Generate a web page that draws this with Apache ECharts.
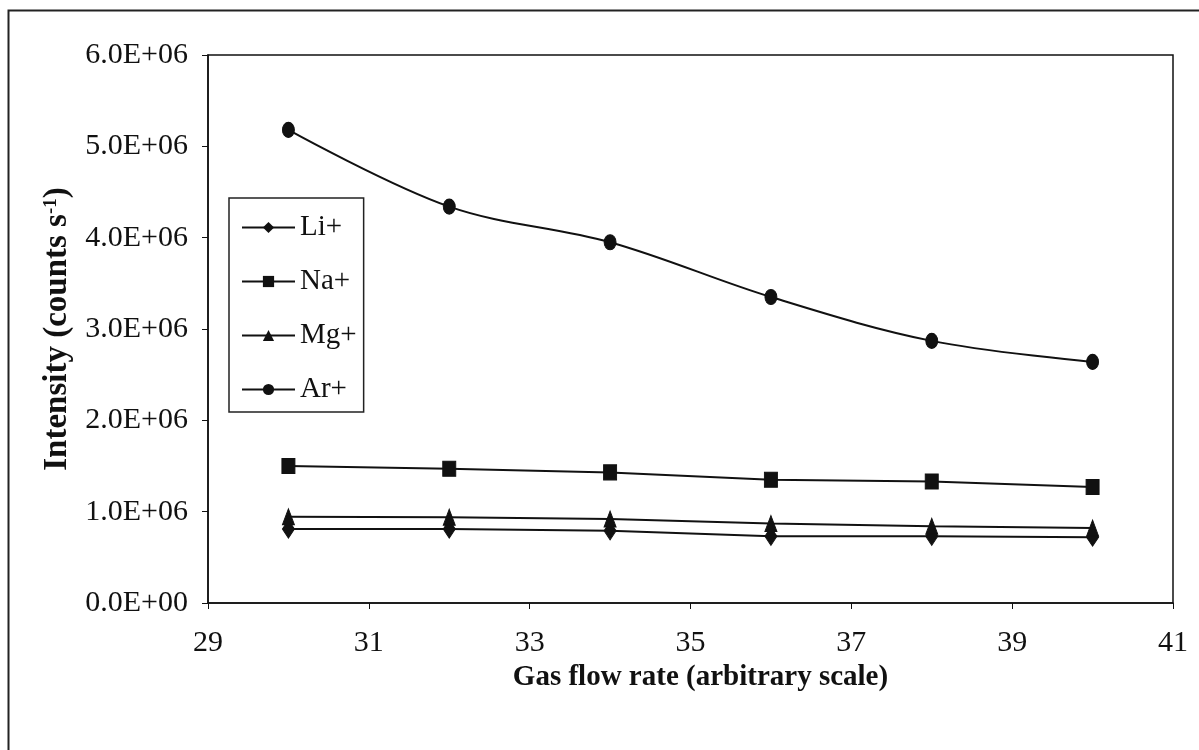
<!DOCTYPE html>
<html>
<head>
<meta charset="utf-8">
<script src="https://cdn.jsdelivr.net/npm/echarts@6/dist/echarts.min.js"></script>
<style>
  html, body { margin: 0; padding: 0; background: #fff; }
  #chart { width: 1199px; height: 750px; }
</style>
</head>
<body>
<div id="chart"></div>
<script>
// Gas flow rate (arbitrary scale)
const flowRates = [30, 32, 34, 36, 38, 40];

// Ion intensities, counts per second
const liValues = [0.81e6, 0.81e6, 0.79e6, 0.73e6, 0.73e6, 0.72e6];
const naValues = [1.50e6, 1.47e6, 1.43e6, 1.35e6, 1.33e6, 1.27e6];
const mgValues = [0.945e6, 0.94e6, 0.92e6, 0.87e6, 0.84e6, 0.82e6];
const arValues = [5.18e6, 4.34e6, 3.95e6, 3.35e6, 2.87e6, 2.64e6];

// Tick positions shown on the x axis
const xTicks = [29, 31, 33, 35, 37, 39, 41];

const serif = '"Liberation Serif", "Times New Roman", serif';

function pairs(values) {
  return flowRates.map((x, i) => [x, values[i]]);
}

function lineSeries(name, values, symbol, size, smooth) {
  return {
    name: name,
    type: 'line',
    data: pairs(values),
    symbol: symbol,
    symbolSize: size,
    smooth: smooth,
    lineStyle: { color: '#111', width: 2 },
    itemStyle: { color: '#111', borderColor: '#111' },
    z: 3
  };
}

const chart = echarts.init(document.getElementById('chart'));

chart.setOption({
  backgroundColor: '#fff',
  animation: false,
  graphic: [{
    type: 'rect',
    shape: { x: 8.5, y: 10.5, width: 1220, height: 760 },
    style: { fill: 'none', stroke: '#222', lineWidth: 2 },
    silent: true
  }],
  grid: {
    left: 208, right: 26, top: 55, bottom: 147,
    show: true, borderColor: '#111', borderWidth: 1.5,
    containLabel: false
  },
  legend: {
    orient: 'vertical',
    left: 229, top: 198,
    borderColor: '#222', borderWidth: 1.5,
    padding: [15, 7, 8, 12],
    itemGap: 25,
    itemWidth: 53,
    itemHeight: 14,
    textStyle: { fontFamily: serif, fontSize: 29, color: '#111' },
    data: ['Li+', 'Na+', 'Mg+', 'Ar+']
  },
  xAxis: {
    type: 'value',
    min: 29, max: 41, interval: 1,
    name: 'Gas flow rate (arbitrary scale)',
    nameLocation: 'middle',
    nameGap: 59,
    nameTextStyle: { fontFamily: serif, fontSize: 29, fontWeight: 'bold', color: '#111', padding: [0, 0, 0, 20] },
    axisLine: { lineStyle: { color: '#111', width: 1.5 } },
    axisTick: { show: true, customValues: xTicks, length: 6, lineStyle: { color: '#111' } },
    axisLabel: { customValues: xTicks, fontFamily: serif, fontSize: 30, color: '#111', margin: 25 },
    splitLine: { show: false }
  },
  yAxis: {
    type: 'value',
    min: 0, max: 6e6, interval: 1e6,
    name: '{t|Intensity (counts s}{sup|-1}{t|)}',
    nameLocation: 'middle',
    nameGap: 132,
    nameRotate: 90,
    nameTextStyle: {
      rich: {
        t: { fontFamily: serif, fontSize: 33, fontWeight: 'bold', color: '#111' },
        sup: { fontFamily: serif, fontSize: 19, fontWeight: 'bold', color: '#111', verticalAlign: 'top', padding: [0, 0, 14, 0] }
      }
    },
    axisLine: { show: true, lineStyle: { color: '#111', width: 1.5 } },
    axisTick: { show: true, length: 6, lineStyle: { color: '#111' } },
    axisLabel: {
      fontFamily: serif, fontSize: 30, color: '#111', margin: 20,
      formatter: v => v === 0 ? '0.0E+00' : (v / 1e6).toFixed(1) + 'E+06'
    },
    splitLine: { show: false }
  },
  series: [
    lineSeries('Li+', liValues, 'diamond', [12, 18], false),
    lineSeries('Na+', naValues, 'rect', [13, 15], false),
    lineSeries('Mg+', mgValues, 'triangle', [12, 16], false),
    lineSeries('Ar+', arValues, 'circle', [12, 15], 0.35)
  ]
});
</script>
</body>
</html>
